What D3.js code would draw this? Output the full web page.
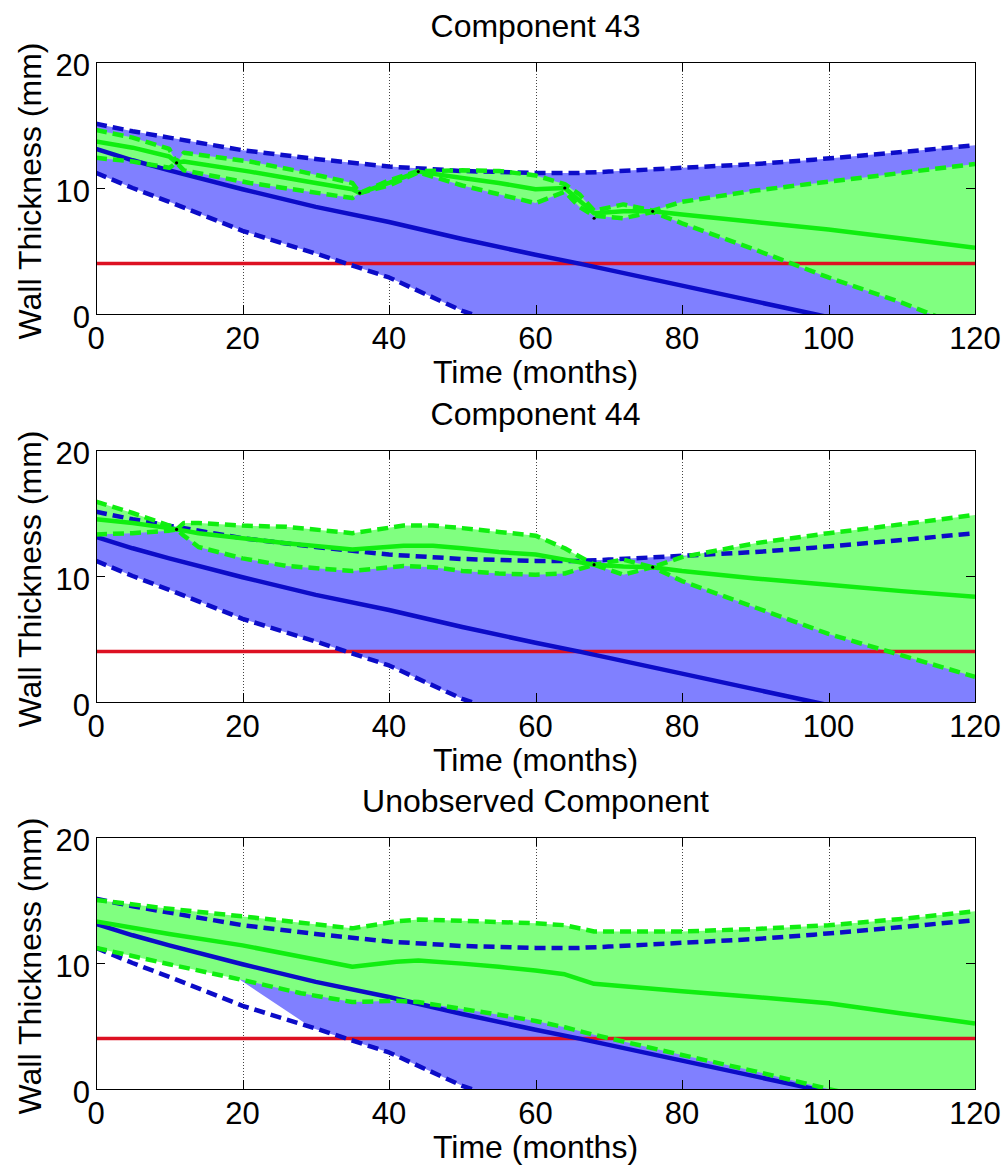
<!DOCTYPE html>
<html>
<head>
<meta charset="utf-8">
<script src="https://cdn.jsdelivr.net/npm/d3@7"></script>
<style>
  body { margin: 0; background: #fff; }
  text { font-family: "Liberation Sans", Arial, Helvetica, sans-serif; fill: #000; }
</style>
</head>
<body>
<svg id="fig" width="1008" height="1166"></svg>
<script>
// ---- Prior degradation model (same for every component) ----
const priorMonths = [0, 5, 10, 20, 30, 40, 50, 60, 66, 70, 80, 90, 98, 110, 120];
const priorUpper  = [15.1, 14.5, 14.0, 13.0, 12.3, 11.7, 11.35, 11.2, 11.2, 11.3, 11.6, 11.9, 12.25, 12.85, 13.4];
const priorMean   = [13.1, 12.2, 11.4, 9.9, 8.5, 7.3, 5.95, 4.7, 4.0, 3.5, 2.25, 1.0, 0.0, -1.5, -2.75];
const priorLower  = [11.2, 10.0, 8.9, 6.6, 4.8, 2.9, 0.25, -1.8, -3.0, -3.8, -5.8, -7.8, -9.4, -11.8, -13.8];

// ---- Updated model, Component 43 ----
const c43Months = [0, 5, 10, 11, 12, 21, 28, 35, 36, 40, 44, 50, 55, 60, 64, 66, 68, 72, 76, 80, 90, 100, 110, 120];
const c43Upper  = [14.6, 14.0, 13.1, 12.0, 12.8, 12.1, 11.3, 10.4, 9.6, 10.6, 11.35, 11.4, 11.35, 11.0, 10.3, 9.5, 8.2, 8.7, 8.2, 8.9, 9.8, 10.5, 11.2, 11.9];
const c43Mean   = [13.7, 13.2, 12.5, 12.0, 12.1, 11.3, 10.6, 9.9, 9.6, 10.4, 11.3, 10.8, 10.4, 9.9, 10.0, 9.0, 8.0, 8.15, 8.15, 7.9, 7.3, 6.7, 6.0, 5.25];
const c43Lower  = [12.4, 12.1, 11.6, 12.0, 11.4, 10.4, 9.8, 9.2, 9.6, 10.2, 11.25, 10.2, 9.5, 8.8, 9.7, 8.5, 7.8, 7.6, 8.1, 7.2, 5.1, 2.9, 0.9, -1.4];
const c43InspMonths = [11, 36, 44, 64, 68, 76];
const c43InspValues = [12.0, 9.6, 11.3, 10.0, 7.6, 8.15];

// ---- Updated model, Component 44 ----
const c44Months = [0, 5, 10, 11, 12, 14, 20, 26, 35, 42, 46, 50, 55, 60, 64, 68, 72, 76, 80, 90, 100, 110, 120];
const c44Upper  = [15.9, 15.0, 14.0, 13.7, 14.2, 14.2, 14.0, 13.9, 13.4, 14.0, 14.0, 13.8, 13.5, 13.2, 12.2, 10.9, 11.3, 10.7, 11.5, 12.6, 13.4, 14.1, 14.85];
const c44Mean   = [14.5, 14.2, 13.8, 13.7, 13.6, 13.4, 13.0, 12.6, 12.1, 12.4, 12.4, 12.2, 11.9, 11.7, 11.3, 10.9, 10.75, 10.7, 10.4, 9.8, 9.3, 8.8, 8.35];
const c44Lower  = [13.3, 13.4, 13.6, 13.7, 13.2, 12.3, 11.4, 10.8, 10.4, 10.8, 10.7, 10.4, 10.2, 10.1, 10.2, 10.9, 10.1, 10.7, 9.6, 7.5, 5.4, 3.7, 2.0];
const c44InspMonths = [11, 68, 76];
const c44InspValues = [13.7, 10.9, 10.7];

// ---- Updated model, unobserved component ----
const unobsMonths = [0, 10, 20, 28, 35, 41, 44, 50, 55, 60, 64, 68, 80, 90, 100, 110, 120];
const unobsUpper  = [15.0, 14.3, 13.7, 13.2, 12.75, 13.3, 13.45, 13.35, 13.25, 13.15, 13.0, 12.5, 12.5, 12.7, 13.0, 13.5, 14.1];
const unobsMean   = [13.3, 12.3, 11.4, 10.5, 9.7, 10.1, 10.2, 9.95, 9.7, 9.4, 9.1, 8.35, 7.75, 7.3, 6.8, 6.0, 5.2];
const unobsLower  = [11.2, 9.9, 8.65, 7.6, 6.9, 7.0, 6.9, 6.35, 5.9, 5.4, 4.9, 4.3, 2.7, 1.4, 0.0, -1.3, -2.6];
// visible part of the prior band behind the unobserved component
const unobsPriorMonths = [19.7, 29.5, 40, 50, 60, 66, 70, 80, 90, 98, 110, 120];
const unobsPriorLower  = [8.65, 4.85, 2.9, 0.25, -1.8, -3.0, -3.8, -5.8, -7.8, -9.4, -11.8, -13.8];
const unobsPriorUpper  = [13.0, 12.35, 11.7, 11.35, 11.2, 11.2, 11.3, 11.6, 11.9, 12.25, 12.85, 13.4];

// ---- Axes, labels, threshold ----
const panelTitles = ["Component 43", "Component 44", "Unobserved Component"];
const xTicks = [0, 20, 40, 60, 80, 100, 120];
const yTicks = [0, 10, 20];
const xLabel = "Time (months)";
const yLabel = "Wall Thickness (mm)";
const minThickness = 4;

const panels = [
  { title: panelTitles[0], months: c43Months, upper: c43Upper, mean: c43Mean, lower: c43Lower,
    inspM: c43InspMonths, inspV: c43InspValues,
    fillM: priorMonths, fillU: priorUpper, fillL: priorLower },
  { title: panelTitles[1], months: c44Months, upper: c44Upper, mean: c44Mean, lower: c44Lower,
    inspM: c44InspMonths, inspV: c44InspValues,
    fillM: priorMonths, fillU: priorUpper, fillL: priorLower },
  { title: panelTitles[2], months: unobsMonths, upper: unobsUpper, mean: unobsMean, lower: unobsLower,
    inspM: [], inspV: [],
    fillM: unobsPriorMonths, fillU: unobsPriorUpper, fillL: unobsPriorLower }
];

// ---- Layout ----
const plotLeft = 96, plotRight = 975, plotH = 252;
const panelTops = [62, 450, 837];
const tickFont = 31, titleFont = 32, labelFont = 32;

const col = {
  blueFill: "#8080ff", greenFill: "#80ff80",
  blueLine: "#0c0cc8", greenLine: "#10ee10", red: "#dd1122"
};

const svg = d3.select("#fig");
svg.append("rect").attr("width", 1008).attr("height", 1166).attr("fill", "#fff");

const x = d3.scaleLinear().domain([0, 120]).range([plotLeft, plotRight]);

const zip = (ms, vs) => ms.map((m, i) => [m, vs[i]]);

panels.forEach((p, i) => {
  const top = panelTops[i], bottom = top + plotH;
  const y = d3.scaleLinear().domain([0, 20]).range([bottom, top]);
  const g = svg.append("g");

  const clipId = "clip" + i;
  svg.append("clipPath").attr("id", clipId)
    .append("rect").attr("x", plotLeft).attr("y", top)
    .attr("width", plotRight - plotLeft).attr("height", plotH);

  // vertical dotted grid
  g.append("g").selectAll("line").data(xTicks.slice(1, -1)).join("line")
    .attr("x1", d => Math.round(x(d)) + 0.5).attr("x2", d => Math.round(x(d)) + 0.5)
    .attr("y1", top).attr("y2", bottom)
    .attr("stroke", "#444").attr("stroke-width", 1).attr("stroke-dasharray", "1,2");

  const plot = g.append("g").attr("clip-path", `url(#${clipId})`);

  const area = d3.area().x(d => x(d[0])).y0(d => y(d[1])).y1(d => y(d[2]));
  const line = d3.line().x(d => x(d[0])).y(d => y(d[1]));

  const priorBand = p.fillM.map((m, k) => [m, p.fillL[k], p.fillU[k]]);
  const postBand = p.months.map((m, k) => [m, p.lower[k], p.upper[k]]);

  plot.append("path").attr("d", area(priorBand)).attr("fill", col.blueFill);
  plot.append("path").attr("d", area(postBand)).attr("fill", col.greenFill);

  // minimum allowable thickness
  plot.append("line")
    .attr("x1", x(0)).attr("x2", x(120))
    .attr("y1", y(minThickness)).attr("y2", y(minThickness))
    .attr("stroke", col.red).attr("stroke-width", 3.5);

  const drawLine = (data, color, dashed) => {
    plot.append("path").attr("d", line(data))
      .attr("fill", "none").attr("stroke", color).attr("stroke-width", 4.5)
      .attr("stroke-linejoin", "round")
      .attr("stroke-dasharray", dashed ? "11,6" : null);
  };

  drawLine(zip(priorMonths, priorUpper), col.blueLine, true);
  drawLine(zip(priorMonths, priorLower), col.blueLine, true);
  drawLine(zip(priorMonths, priorMean), col.blueLine, false);
  drawLine(zip(p.months, p.upper), col.greenLine, true);
  drawLine(zip(p.months, p.lower), col.greenLine, true);
  drawLine(zip(p.months, p.mean), col.greenLine, false);

  // inspection measurements
  plot.append("g").selectAll("circle").data(zip(p.inspM, p.inspV)).join("circle")
    .attr("cx", d => x(d[0])).attr("cy", d => y(d[1])).attr("r", 1.6).attr("fill", "#000");

  // axes box with inward ticks on all sides
  g.append("rect").attr("x", plotLeft + 0.5).attr("y", top + 0.5)
    .attr("width", plotRight - plotLeft).attr("height", plotH)
    .attr("fill", "none").attr("stroke", "#000").attr("stroke-width", 1);

  const tl = 9;
  const ticks = g.append("g").attr("stroke", "#000").attr("stroke-width", 1);
  xTicks.forEach(t => {
    const xx = Math.round(x(t)) + 0.5;
    ticks.append("line").attr("x1", xx).attr("x2", xx).attr("y1", bottom).attr("y2", bottom - tl);
    ticks.append("line").attr("x1", xx).attr("x2", xx).attr("y1", top).attr("y2", top + tl);
  });
  yTicks.forEach(t => {
    const yy = Math.round(y(t)) + 0.5;
    ticks.append("line").attr("x1", plotLeft).attr("x2", plotLeft + tl).attr("y1", yy).attr("y2", yy);
    ticks.append("line").attr("x1", plotRight).attr("x2", plotRight - tl).attr("y1", yy).attr("y2", yy);
  });

  // tick labels
  g.append("g").selectAll("text").data(xTicks).join("text")
    .attr("x", d => x(d)).attr("y", bottom + 35)
    .attr("text-anchor", "middle").attr("font-size", tickFont).text(d => d);
  g.append("g").selectAll("text").data(yTicks).join("text")
    .attr("x", plotLeft - 6).attr("y", d => y(d) + 14)
    .attr("text-anchor", "end").attr("font-size", tickFont).text(d => d);

  // titles and axis labels
  g.append("text").attr("x", (plotLeft + plotRight) / 2).attr("y", top - 25)
    .attr("text-anchor", "middle").attr("font-size", titleFont).text(p.title);
  g.append("text").attr("x", (plotLeft + plotRight) / 2).attr("y", bottom + 69)
    .attr("text-anchor", "middle").attr("font-size", labelFont).text(xLabel);
  g.append("text")
    .attr("transform", `translate(41,${(top + bottom) / 2 + 3}) rotate(-90)`)
    .attr("text-anchor", "middle").attr("font-size", labelFont).text(yLabel);
});
</script>
</body>
</html>
